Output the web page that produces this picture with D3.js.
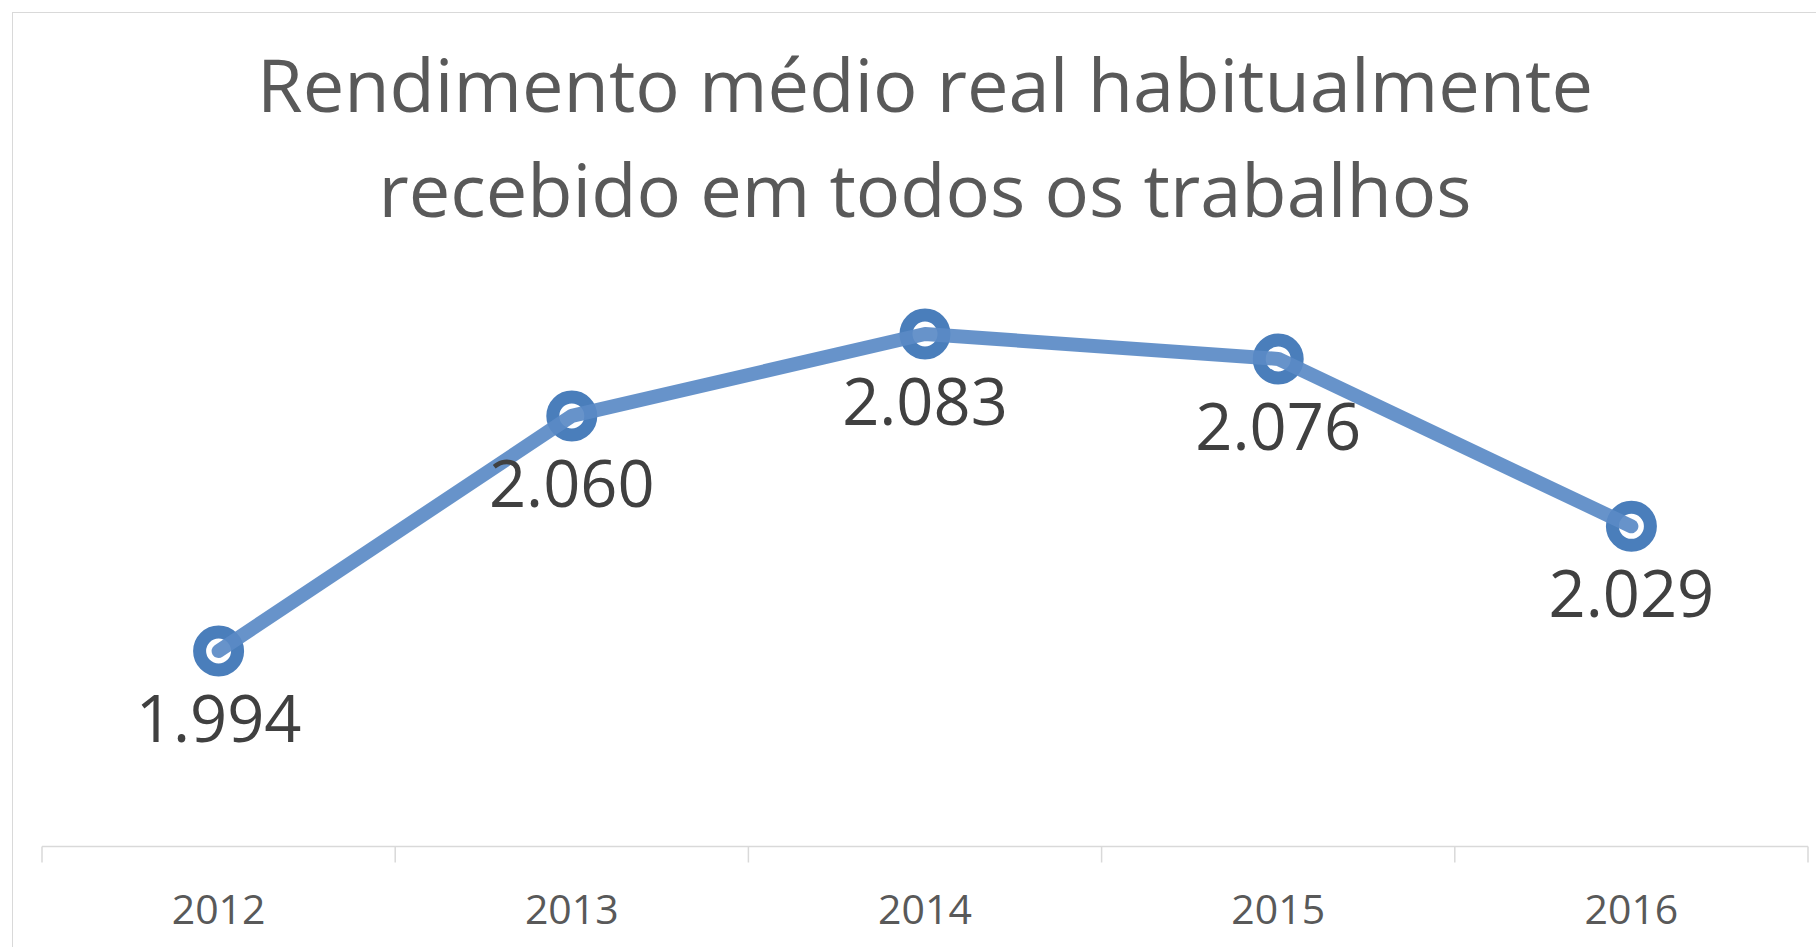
<!DOCTYPE html>
<html>
<head>
<meta charset="utf-8">
<script src="https://cdn.jsdelivr.net/npm/d3@7"></script>
<style>
  body { margin: 0; background: #fff; }
  svg { display: block; }
</style>
</head>
<body>
<script>
const years = ["2012", "2013", "2014", "2015", "2016"];
const values = [1994, 2060, 2083, 2076, 2029];
const valueLabels = ["1.994", "2.060", "2.083", "2.076", "2.029"];
const titleLines = ["Rendimento médio real habitualmente", "recebido em todos os trabalhos"];

const W = 1816, H = 947;
const font = "'Open Sans', sans-serif";

var svg = d3.select("body").append("svg")
   .attr("width", W)
   .attr("height", H);

// chart border
svg.append("rect")
   .attr("x", 12.5).attr("y", 12.5)
   .attr("width", W).attr("height", H)
   .attr("fill", "#fff")
   .attr("stroke", "#d9d9d9")
   .attr("stroke-width", 1);

// title
svg.append("g").selectAll("text")
   .data(titleLines)
   .enter()
   .append("text")
   .attr("x", 925)
   .attr("y", (d, i) => 112 + i * 105)
   .attr("text-anchor", "middle")
   .style("font-family", font)
   .style("font-size", "74px")
   .style("fill", "#595959")
   .text(d => d);

var x = d3.scaleBand()
   .domain(years)
   .range([42, 1808])
   .padding(0);

var y = d3.scaleLinear()
   .domain([1994, 2083])
   .range([651, 334]);

// category axis
var xAxis = svg.append("g")
   .attr("transform", "translate(0,846.5)");
xAxis.append("line")
   .attr("x1", 42).attr("x2", 1808)
   .attr("stroke", "#d9d9d9").attr("stroke-width", 1.5);
xAxis.selectAll("line.tick")
   .data(years.concat([null]))
   .enter()
   .append("line")
   .attr("class", "tick")
   .attr("x1", (d, i) => i < years.length ? x(d) : x.range()[1])
   .attr("x2", (d, i) => i < years.length ? x(d) : x.range()[1])
   .attr("y1", 0).attr("y2", 16)
   .attr("stroke", "#d9d9d9").attr("stroke-width", 1.5);
xAxis.selectAll("text")
   .data(years)
   .enter()
   .append("text")
   .attr("x", d => x(d) + x.bandwidth() / 2)
   .attr("y", 77)
   .attr("text-anchor", "middle")
   .style("font-family", font)
   .style("font-size", "41px")
   .style("fill", "#595959")
   .text(d => d);

const cx = (d, i) => x(years[i]) + x.bandwidth() / 2;

// markers
svg.append("g").selectAll("circle")
   .data(values)
   .enter()
   .append("circle")
   .attr("cx", cx)
   .attr("cy", d => y(d))
   .attr("r", 19)
   .attr("fill", "#fff")
   .attr("stroke", "#4a7ebb")
   .attr("stroke-width", 13);

// line
var line = d3.line()
   .x(cx)
   .y(d => y(d));
svg.append("path")
   .datum(values)
   .attr("d", line)
   .attr("fill", "none")
   .attr("stroke", "#5a8ac6")
   .attr("stroke-opacity", 0.92)
   .attr("stroke-width", 14)
   .attr("stroke-linecap", "round")
   .attr("stroke-linejoin", "round");

// data labels
svg.append("g").selectAll("text")
   .data(values)
   .enter()
   .append("text")
   .attr("x", cx)
   .attr("y", d => y(d) + 91)
   .attr("text-anchor", "middle")
   .style("font-family", font)
   .style("font-size", "65px")
   .style("fill", "#404040")
   .text((d, i) => valueLabels[i]);
</script>
</body>
</html>
